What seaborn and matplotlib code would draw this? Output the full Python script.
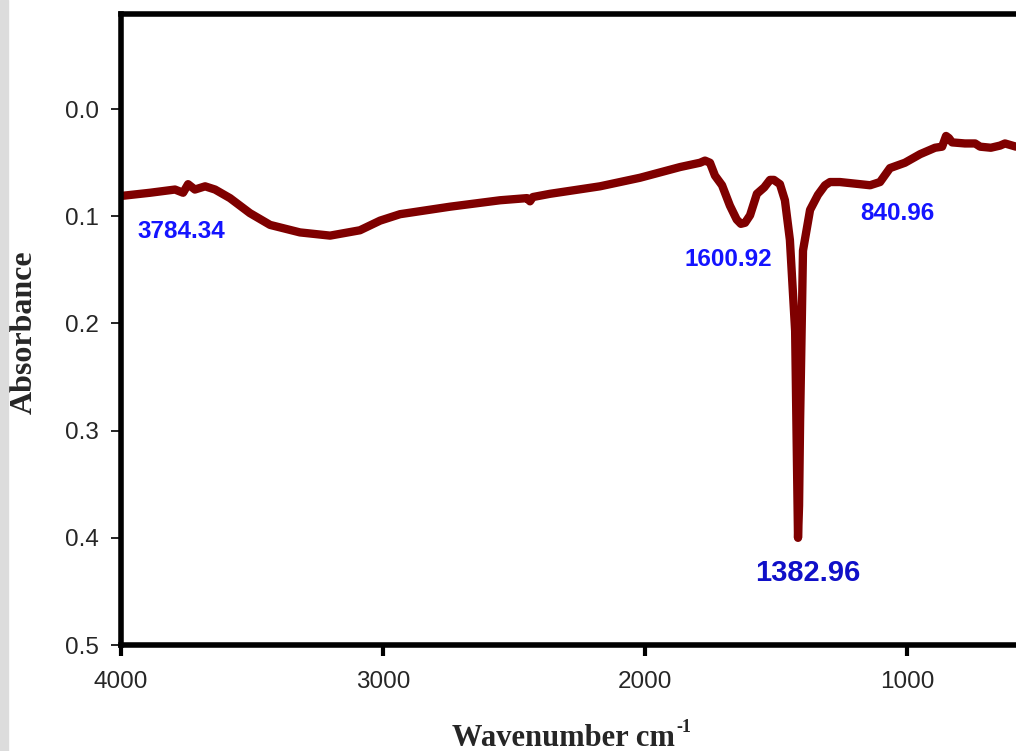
import numpy as np
import pandas as pd
import matplotlib
matplotlib.use("Agg")
import matplotlib.pyplot as plt
import seaborn as sns

wavenumber = [4000, 3889, 3794, 3763, 3744, 3718, 3679, 3641, 3584, 3508, 3431, 3317,
              3202, 3088, 3011, 2935, 2744, 2553, 2450, 2439, 2428, 2363, 2172, 2019,
              1866, 1790, 1771, 1752, 1733, 1706, 1676, 1650, 1634, 1618, 1599, 1573,
              1545, 1523, 1508, 1485, 1466, 1447, 1427, 1420, 1416, 1412, 1408, 1397,
              1370, 1340, 1313, 1294, 1256, 1179, 1141, 1103, 1065, 1008, 950, 893,
              866, 851, 840, 828, 779, 740, 721, 680, 645, 626, 584]
absorbance = [0.081, 0.078, 0.075, 0.078, 0.070, 0.075, 0.072, 0.075, 0.083, 0.097, 0.108, 0.115,
              0.118, 0.113, 0.104, 0.098, 0.091, 0.085, 0.083, 0.086, 0.082, 0.079, 0.072, 0.064,
              0.054, 0.050, 0.048, 0.050, 0.062, 0.071, 0.090, 0.103, 0.107, 0.106, 0.099, 0.079,
              0.073, 0.066, 0.066, 0.070, 0.085, 0.122, 0.207, 0.330, 0.400, 0.370, 0.290, 0.132,
              0.094, 0.080, 0.071, 0.068, 0.068, 0.070, 0.071, 0.068, 0.055, 0.050, 0.042, 0.036,
              0.035, 0.025, 0.027, 0.031, 0.032, 0.032, 0.035, 0.036, 0.034, 0.032, 0.035]

peak_labels = ["3784.34", "1600.92", "840.96", "1382.96"]
label_x = [3771, 1683, 1038, 1378]
label_y = [0.114, 0.140, 0.097, 0.433]

df = pd.DataFrame({"Wavenumber": wavenumber, "Absorbance": absorbance})

sns.set_style("white")
plt.rcParams['font.family'] = ['Liberation Sans', 'DejaVu Sans']

fig = plt.figure(figsize=(10.16, 7.51), dpi=100)
fig.patches.append(plt.Rectangle((0, 0), 8 / 1016, 1, transform=fig.transFigure,
                                 color="#dcdcdc", zorder=0))
ax = fig.add_axes([121 / 1016, 1 - 645 / 751, 1 - 121 / 1016, (645 - 14) / 751])

sns.lineplot(data=df, x="Wavenumber", y="Absorbance", ax=ax, color="#7f0000",
             linewidth=6, sort=False, solid_joinstyle="round", solid_capstyle="round")

ax.set_xlim(4000, 584)
ax.set_ylim(0.5, -0.0888)
ax.set_xticks([4000, 3000, 2000, 1000])
ax.set_yticks([0.0, 0.1, 0.2, 0.3, 0.4, 0.5])
ax.set_yticklabels(["0.0", "0.1", "0.2", "0.3", "0.4", "0.5"])

for s in ["left", "top", "bottom"]:
    ax.spines[s].set_linewidth(4)
    ax.spines[s].set_color("black")
ax.spines["right"].set_visible(False)

ax.tick_params(axis="x", direction="out", length=8, width=3, color="black",
               labelsize=17.5, pad=11, bottom=True)
ax.tick_params(axis="y", direction="out", length=7, width=1.2, color="black",
               labelsize=17.5, pad=9, left=True)

ax.set_xlabel("Wavenumber cm", fontsize=22, fontweight="bold",
              family="Liberation Serif")
ax.xaxis.set_label_coords(0.494, -0.160)
ax.xaxis.label.set_verticalalignment("baseline")
ax.text(0.620, -0.160 + 14 / 631, "-1", transform=ax.transAxes, fontsize=13,
        fontweight="bold", family="Liberation Serif", ha="left", va="baseline")

ax.set_ylabel("Absorbance", fontsize=23, fontweight="bold",
              family="Liberation Serif")
ax.yaxis.set_label_coords(-0.092, 0.496)

colors = ["#1414ff", "#1414ff", "#1414ff", "#1010c8"]
sizes = [17.5, 17.5, 17.5, 21]
for t, x, y, c, fs in zip(peak_labels, label_x, label_y, colors, sizes):
    ax.text(x, y, t, color=c, fontsize=fs, fontweight="bold", ha="center", va="center")

fig.savefig("out.png", dpi=100)
